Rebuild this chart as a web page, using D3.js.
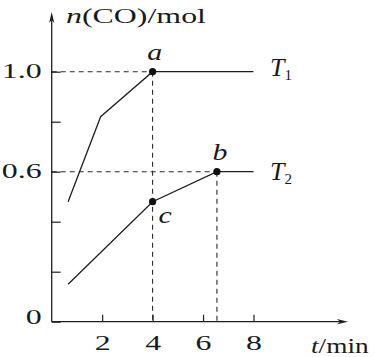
<!DOCTYPE html>
<meta charset="utf-8">
<style>
body { margin: 0; background: #fff; }
text { font-family: 'Liberation Serif', 'Times New Roman', serif; fill: #1a1a1a; }
.curve { fill: none; stroke: #1f1f1f; stroke-width: 1.3px; }
.guide { fill: none; stroke: #2a2a2a; stroke-width: 1.1px; stroke-dasharray: 5,4; }
.axis-line { fill: none; stroke: #1f1f1f; stroke-width: 1.3px; }
</style>
<div id="chart"></div>
<script src="https://d3js.org/d3.v7.min.js"></script>
<script>
// ticks
var tTicks = [2, 4, 6, 8]
var nTicks = [0, 0.2, 0.4, 0.6, 0.8, 1.0]
var nLabelled = [0, 0.6, 1.0]

// curve T1
var t1Time = [0.65, 1.94, 4, 8]
var t1Amount = [0.48, 0.82, 1.0, 1.0]

// curve T2
var t2Time = [0.65, 4, 6.55, 8]
var t2Amount = [0.15, 0.48, 0.6, 0.6]

// marked points
var pointNames = ['a', 'b', 'c']
var pointTime = [4, 6.55, 4]
var pointAmount = [1.0, 0.6, 0.48]

var seriesNames = ['1', '2']

var width = 375
var height = 357
var stretch = 1.45   // the printed glyphs are wide

var svg = d3.select('#chart')
  .append('svg')
  .attr('width', width)
  .attr('height', height)

svg.append('rect').attr('width', width).attr('height', height).attr('fill', '#fff')

var xPositionScale = d3.scaleLinear().domain([0, 8]).range([51.7, 253.5])
var yPositionScale = d3.scaleLinear().domain([0, 1]).range([321.7, 71.7])

var x0 = xPositionScale(0)
var y0 = yPositionScale(0)

// axes with arrows
svg.append('path')
  .attr('class', 'axis-line')
  .attr('d', 'M' + x0 + ',' + y0 + 'V16')
svg.append('path')
  .attr('d', 'M' + x0 + ',12L' + (x0 - 2.6) + ',23L' + x0 + ',20L' + (x0 + 2.6) + ',23Z')
  .attr('fill', '#1f1f1f')
svg.append('path')
  .attr('class', 'axis-line')
  .attr('d', 'M' + x0 + ',' + y0 + 'H343')
svg.append('path')
  .attr('d', 'M348,' + y0 + 'L337,' + (y0 - 2.6) + 'L340,' + y0 + 'L337,' + (y0 + 2.6) + 'Z')
  .attr('fill', '#1f1f1f')

var yAxis = d3.axisLeft(yPositionScale)
  .tickValues(nTicks)
  .tickSize(-9)
  .tickSizeOuter(0)
  .tickPadding(10)
  .tickFormat(d => nLabelled.indexOf(d) >= 0 ? (d === 0 ? '0' : d.toFixed(1)) : '')

var yG = svg.append('g')
  .attr('transform', 'translate(' + x0 + ',0)')
  .call(yAxis)
yG.select('.domain').remove()
yG.attr('font-family', null).attr('font-size', 22).attr('color', '#1f1f1f')
yG.selectAll('line').attr('stroke-width', 1.2)
yG.selectAll('text')
  .attr('x', -10 / stretch)
  .attr('dy', d => d === 0 ? '0.1em' : '0.26em')
  .attr('transform', 'scale(' + stretch + ',1)')

var xAxis = d3.axisBottom(xPositionScale)
  .tickValues(tTicks)
  .tickSize(-7)
  .tickSizeOuter(0)
  .tickPadding(13)

var xG = svg.append('g')
  .attr('transform', 'translate(0,' + y0 + ')')
  .call(xAxis)
xG.select('.domain').remove()
xG.attr('font-family', null).attr('font-size', 22).attr('color', '#1f1f1f')
xG.selectAll('line').attr('stroke-width', 1.2)
xG.selectAll('text').attr('transform', 'scale(' + stretch + ',1)')

// axis titles
var yTitle = svg.append('text')
  .attr('transform', 'translate(66,23) scale(' + stretch + ',1)')
  .attr('font-size', 22)
yTitle.append('tspan').attr('font-style', 'italic').text('n')
yTitle.append('tspan').text('(CO)/mol')

var xTitle = svg.append('text')
  .attr('transform', 'translate(311,353) scale(1.3,1)')
  .attr('font-size', 21)
xTitle.append('tspan').attr('font-style', 'italic').text('t')
xTitle.append('tspan').text('/min')

// dashed guides to points a and b
;[0, 1].forEach(function(i) {
  var px = xPositionScale(pointTime[i])
  var py = yPositionScale(pointAmount[i])
  svg.append('path')
    .attr('class', 'guide')
    .attr('d', 'M' + x0 + ',' + py + 'H' + px)
  svg.append('path')
    .attr('class', 'guide')
    .attr('d', 'M' + px + ',' + py + 'V' + y0)
})

// curves
var line = d3.line()
  .x(d => xPositionScale(d[0]))
  .y(d => yPositionScale(d[1]))

var series = [
  d3.zip(t1Time, t1Amount),
  d3.zip(t2Time, t2Amount)
]

series.forEach(function(pts, i) {
  svg.append('path')
    .datum(pts)
    .attr('class', 'curve')
    .attr('d', line)

  var last = pts[pts.length - 1]
  var label = svg.append('text')
    .attr('x', xPositionScale(last[0]) + 16.5)
    .attr('y', yPositionScale(last[1]) + (i === 0 ? 4 : 8))
    .attr('font-size', 26)
  label.append('tspan').attr('font-style', 'italic').text('T')
  label.append('tspan').attr('font-size', 15).attr('dy', 4.5).text(seriesNames[i])
})

// points
var labelOffset = { a: [2, -12, 'middle'], b: [3, -12, 'middle'], c: [6, 21, 'start'] }

pointNames.forEach(function(name, i) {
  var px = xPositionScale(pointTime[i])
  var py = yPositionScale(pointAmount[i])
  svg.append('circle')
    .attr('cx', px)
    .attr('cy', py)
    .attr('r', 3.6)
    .attr('fill', '#111')
  var off = labelOffset[name]
  svg.append('text')
    .attr('transform', 'translate(' + (px + off[0]) + ',' + (py + off[1]) + ') scale(1.3,1)')
    .attr('text-anchor', off[2])
    .attr('font-size', 23)
    .attr('font-style', 'italic')
    .text(name)
})
</script>
